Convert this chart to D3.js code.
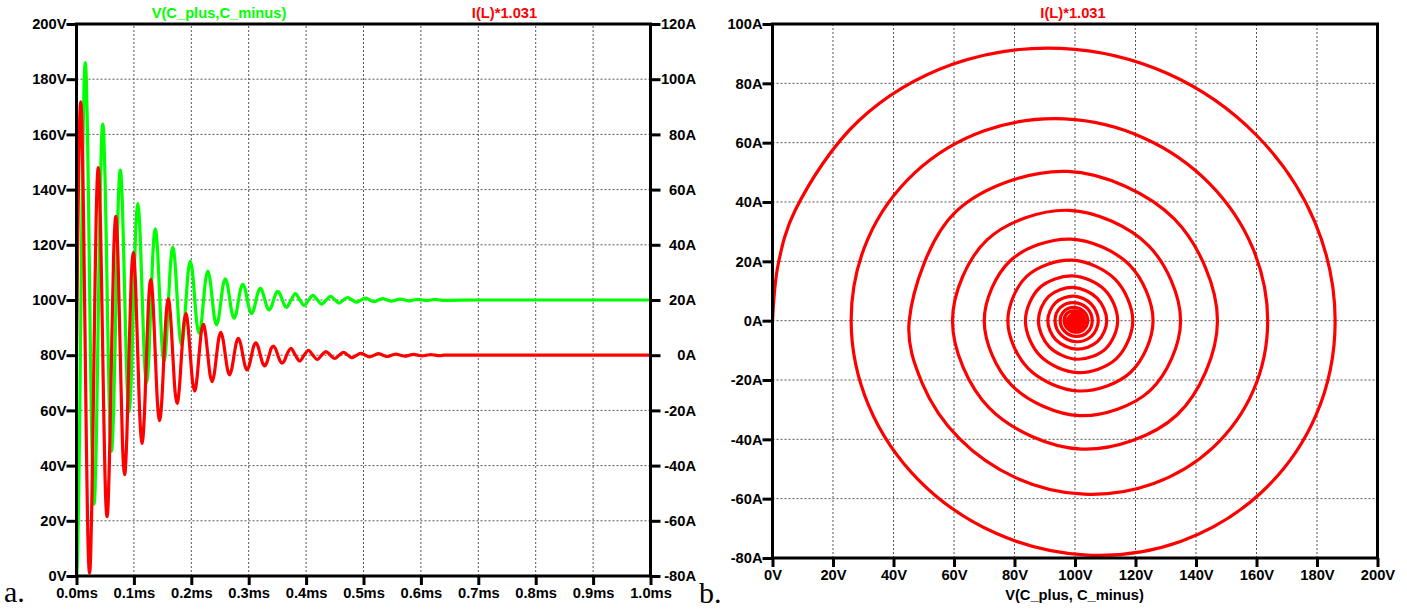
<!DOCTYPE html>
<html><head><meta charset="utf-8">
<script src="https://cdn.jsdelivr.net/npm/d3@7"></script>
<style>
body{margin:0;background:#fff}
svg{display:block;background:#fff}
.t{font-family:"Liberation Sans",Arial,sans-serif;font-weight:bold;font-size:14.7px}
</style>
</head><body>
<svg id="c" width="1407" height="609"></svg>
<script>
// ---------- data ----------
const timeMs = [
0, 0.0010, 0.0019, 0.0038, 0.0057, 0.0076, 0.0095, 0.0114, 0.0133,
0.0153, 0.0172, 0.0191, 0.0210, 0.0229, 0.0248, 0.0267, 0.0286,
0.0305, 0.0324, 0.0343, 0.0362, 0.0381, 0.0400, 0.0419, 0.0438,
0.0458, 0.0477, 0.0496, 0.0515, 0.0534, 0.0553, 0.0572, 0.0591,
0.0610, 0.0648, 0.0686, 0.0724, 0.0763, 0.0801, 0.0839, 0.0877,
0.0915, 0.0953, 0.0991, 0.1029, 0.1068, 0.1106, 0.1144, 0.1182,
0.1220, 0.1258, 0.1296, 0.1334, 0.1373, 0.1411, 0.1449, 0.1487,
0.1525, 0.1563, 0.1601, 0.1639, 0.1678, 0.1716, 0.1754, 0.1792,
0.1830, 0.1868, 0.1906, 0.1944, 0.1983, 0.2021, 0.2059, 0.2097,
0.2135, 0.2173, 0.2211, 0.2249, 0.2288, 0.2326, 0.2364, 0.2402,
0.2440, 0.2478, 0.2516, 0.2554, 0.2593, 0.2631, 0.2669, 0.2707,
0.2745, 0.2783, 0.2821, 0.2859, 0.2898, 0.2936, 0.2974, 0.3012,
0.3050, 0.3088, 0.3126, 0.3164, 0.3203, 0.3241, 0.3279, 0.3317,
0.3355, 0.3393, 0.3431, 0.3469, 0.3508, 0.3546, 0.3584, 0.3622,
0.3660,
0.3736, 0.3813, 0.3889, 0.3965, 0.4041, 0.4118, 0.4194, 0.4270,
0.4346, 0.4423, 0.4499, 0.4575, 0.4651, 0.4728, 0.4804, 0.4880,
0.4956, 0.5033, 0.5109, 0.5185, 0.5261, 0.5338, 0.5414, 0.5490,
0.5566, 0.5643, 0.5719, 0.5795, 0.5871, 0.5948, 0.6024, 0.6100,
0.6176, 0.6253, 0.6329, 0.6405,
0.70, 1.00
];
const vCap = [
0, 1.9, 7.5, 28.5, 59.5, 95.4, 130.6, 160.0, 179.3,
186.0, 179.6, 161.5, 134.9, 104.0, 73.7, 48.4, 31.8,
26.0, 31.5, 47.1, 70.0, 96.6, 122.7, 144.4, 158.7,
163.7, 158.9, 145.5, 125.8, 103.0, 80.5, 61.8, 49.5,
45.2, 60.8, 97.5, 132.9, 147.1, 133.7, 102.2, 71.7,
59.5, 71.0, 98.1, 124.3, 134.9, 124.9, 101.6, 79.1,
70.0, 78.6, 98.6, 118.0, 125.8, 118.4, 101.2, 84.5,
77.8, 84.1, 99.0, 113.3, 119.1, 113.6, 100.9, 88.5,
83.6, 88.3, 99.2, 109.9, 114.1, 110.1, 100.7, 91.5,
87.9, 91.3, 99.4, 107.3, 110.5, 107.5, 100.5, 93.7,
91.0, 93.6, 99.6, 105.4, 107.7, 105.5, 100.4, 95.4,
93.4, 95.2, 99.7, 104.0, 105.7, 104.1, 100.3, 96.6,
95.1, 96.5, 99.8, 102.9, 104.2, 103.0, 100.2, 97.5,
96.4, 97.4, 99.8, 102.2, 103.1, 102.2, 100.1, 98.1,
97.3,
99.9, 102.3, 100.1, 98.0, 99.9, 101.7, 100.1, 98.5,
99.9, 101.3, 100.1, 98.9, 100.0, 100.9, 100.0, 99.2,
100.0, 100.7, 100.0, 99.4, 100.0, 100.5, 100.0, 99.6,
100.0, 100.35, 100.0, 99.7, 100.0, 100.25, 100.0, 99.8,
100.0, 100.2, 100.0, 99.85,
100, 100
];
const iL = [
0, 19.1, 37.2, 67.4, 86.4, 91.8, 83.3, 62.5, 33.2,
0, -32.0, -58.0, -74.4, -79.0, -71.6, -53.8, -28.6,
0, 27.5, 49.9, 64.0, 68.0, 61.6, 46.3, 24.6,
0, -23.7, -42.9, -55.0, -58.5, -53.0, -39.8, -21.1,
0, 36.9, 50.3, 34.2, 0, -31.8, -43.3, -29.5,
0, 27.3, 37.2, 25.3, 0, -23.5, -32.0, -21.8,
0, 20.2, 27.5, 18.8, 0, -17.4, -23.7, -16.1,
0, 15.0, 20.4, 13.9, 0, -12.9, -17.5, -11.9,
0, 11.1, 15.1, 10.3, 0, -9.5, -13.0, -8.8,
0, 8.2, 11.2, 7.6, 0, -7.0, -9.6, -6.5,
0, 6.1, 8.3, 5.6, 0, -5.2, -7.1, -4.8,
0, 4.5, 6.1, 4.2, 0, -3.9, -5.3, -3.6,
0, 3.3, 4.5, 3.1, 0, -2.8, -3.9, -2.6,
0, 2.5, 3.3, 2.3, 0, -2.1, -2.9, -2.0,
0,
2.5, 0, -2.1, 0, 1.8, 0, -1.6, 0,
1.3, 0, -1.2, 0, 1.0, 0, -0.9, 0,
0.7, 0, -0.6, 0, 0.55, 0, -0.47, 0,
0.4, 0, -0.35, 0, 0.3, 0, -0.26, 0,
0.2, 0, -0.18, 0,
0, 0
];
const timeTicks = [0, 0.1, 0.2, 0.3, 0.4, 0.5, 0.6, 0.7, 0.8, 0.9, 1.0];
const voltTicks = [0, 20, 40, 60, 80, 100, 120, 140, 160, 180, 200];
const ampTicksA = [-80, -60, -40, -20, 0, 20, 40, 60, 80, 100, 120];
const ampTicksB = [-80, -60, -40, -20, 0, 20, 40, 60, 80, 100];
const traceNames = ["V(C_plus,C_minus)", "I(L)*1.031"];
const xLabelB = "V(C_plus, C_minus)";
const panelLabels = ["a.", "b."];

// ---------- drawing ----------
const svg = d3.select("#c");
const GREEN = "#00ff00", RED = "#ff0000";
const pts = timeMs.map((t, i) => ({t, v: vCap[i], i: iL[i]}));

function grid(g, xs, ys, xt, yt) {
  const [x0, x1] = xs.range(), [y0, y1] = ys.range();
  g.selectAll(".gx").data(xt.slice(1, -1)).join("line")
    .attr("x1", d => xs(d)).attr("x2", d => xs(d)).attr("y1", y0).attr("y2", y1);
  g.selectAll(".gy").data(yt.slice(1, -1)).join("line").attr("class","gy")
    .attr("y1", d => ys(d)).attr("y2", d => ys(d)).attr("x1", x0).attr("x2", x1);
  g.selectAll("line").attr("stroke", "#555").attr("stroke-width", 1).attr("stroke-dasharray", "2,2");
}
function styleAxis(g) {
  g.select(".domain").remove();
  g.selectAll(".tick line").attr("stroke", "#000").attr("stroke-width", 3);
  g.selectAll(".tick text").attr("class", "t").attr("fill", "#000");
}

// ----- panel a -----
const xA = d3.scaleLinear().domain([0, 1]).range([76.5, 650.5]);
const yAV = d3.scaleLinear().domain([0, 200]).range([576, 24]);
const yAI = d3.scaleLinear().domain([-80, 120]).range([576, 24]);

grid(svg.append("g"), xA, yAV, timeTicks, voltTicks);

svg.append("defs").append("clipPath").attr("id", "clipA").append("rect")
  .attr("x", 76.5).attr("y", 24).attr("width", 574).attr("height", 552);
svg.select("defs").append("clipPath").attr("id", "clipB").append("rect")
  .attr("x", 772.5).attr("y", 24).attr("width", 605).attr("height", 534);

const gA = svg.append("g").attr("clip-path", "url(#clipA)");
gA.append("path").datum(pts)
  .attr("d", d3.line().x(d => xA(d.t)).y(d => yAV(d.v)).curve(d3.curveMonotoneX))
  .attr("fill", "none").attr("stroke", GREEN).attr("stroke-width", 3.2).attr("stroke-linejoin", "round");
gA.append("path").datum(pts)
  .attr("d", d3.line().x(d => xA(d.t)).y(d => yAI(d.i)).curve(d3.curveMonotoneX))
  .attr("fill", "none").attr("stroke", RED).attr("stroke-width", 3.2).attr("stroke-linejoin", "round");

svg.append("rect").attr("x", 76.5).attr("y", 24).attr("width", 574).attr("height", 552)
  .attr("fill", "none").attr("stroke", "#000").attr("stroke-width", 3);

svg.append("g").attr("transform", "translate(76.5,0)")
  .call(d3.axisLeft(yAV).tickValues(voltTicks).tickFormat(d => d + "V").tickSize(10).tickPadding(0).tickSizeOuter(0))
  .call(styleAxis);
svg.append("g").attr("transform", "translate(0,576)")
  .call(d3.axisBottom(xA).tickValues(timeTicks).tickFormat(d => d.toFixed(1) + "ms").tickSize(9).tickPadding(3).tickSizeOuter(0))
  .call(styleAxis);
const rA = svg.append("g").attr("transform", "translate(650.5,0)")
  .call(d3.axisRight(yAI).tickValues(ampTicksA).tickFormat(d => d + "A").tickSize(10).tickPadding(0).tickSizeOuter(0))
  .call(styleAxis);
rA.selectAll(".tick text").attr("text-anchor", "end").attr("x", 45.5);

svg.append("text").attr("class", "t").attr("x", 219).attr("y", 18).attr("text-anchor", "middle")
  .attr("fill", GREEN).text(traceNames[0]);
svg.append("text").attr("class", "t").attr("x", 504.5).attr("y", 18).attr("text-anchor", "middle")
  .attr("fill", RED).text(traceNames[1]);

// ----- panel b -----
const xB = d3.scaleLinear().domain([0, 200]).range([772.5, 1377.5]);
const yB = d3.scaleLinear().domain([-80, 100]).range([558, 24]);

grid(svg.append("g"), xB, yB, voltTicks, ampTicksB);

svg.append("g").attr("clip-path", "url(#clipB)").append("path").datum(pts)
  .attr("d", d3.line().x(d => xB(d.v)).y(d => yB(d.i)).curve(d3.curveCatmullRom.alpha(0.5)))
  .attr("fill", "none").attr("stroke", RED).attr("stroke-width", 3.2).attr("stroke-linejoin", "round");

svg.append("rect").attr("x", 772.5).attr("y", 24).attr("width", 605).attr("height", 534)
  .attr("fill", "none").attr("stroke", "#000").attr("stroke-width", 3);

svg.append("g").attr("transform", "translate(772.5,0)")
  .call(d3.axisLeft(yB).tickValues(ampTicksB).tickFormat(d => d + "A").tickSize(10).tickPadding(0).tickSizeOuter(0))
  .call(styleAxis);
svg.append("g").attr("transform", "translate(0,558)")
  .call(d3.axisBottom(xB).tickValues(voltTicks).tickFormat(d => d + "V").tickSize(9).tickPadding(3).tickSizeOuter(0))
  .call(styleAxis);

svg.append("text").attr("class", "t").attr("x", 1073).attr("y", 18).attr("text-anchor", "middle")
  .attr("fill", RED).text(traceNames[1]);
svg.append("text").attr("class", "t").attr("x", 1074.5).attr("y", 599.5).attr("text-anchor", "middle")
  .attr("fill", "#000").text(xLabelB);

// panel letters
svg.append("text").attr("x", 4).attr("y", 602).attr("font-family", "'Liberation Serif','Times New Roman',serif")
  .attr("font-size", 30).attr("fill", "#000").text(panelLabels[0]);
svg.append("text").attr("x", 699).attr("y", 603).attr("font-family", "'Liberation Serif','Times New Roman',serif")
  .attr("font-size", 30).attr("fill", "#000").text(panelLabels[1]);
</script>
</body></html>
